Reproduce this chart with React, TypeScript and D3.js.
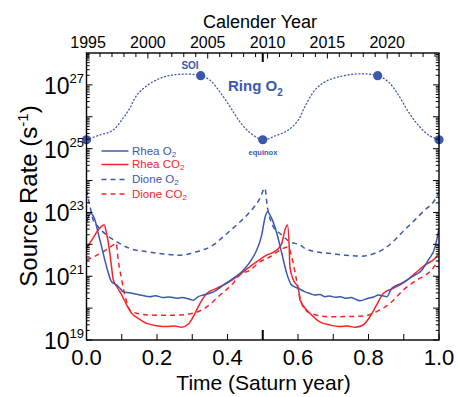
import React from 'react';
import * as d3 from 'd3';

const W = 458;
const H = 397;
const PLOT = { left: 86.5, right: 439, top: 53, bottom: 340 };

const BLUE = '#3b58ae';
const RED = '#f2252b';
const FONT = '"Liberation Sans", Arial, Helvetica, sans-serif';

// Time axis: fraction of one Saturn year; equinox sits at the middle.
const EQUINOX_YEAR = 2009.6;
const SATURN_YEAR = 29.46;
const YEAR_LABELS = [1995, 2000, 2005, 2010, 2015, 2020];
const TIME_LABELS = [0, 0.2, 0.4, 0.6, 0.8, 1.0];
const LOG_LABELS = [19, 21, 23, 25, 27];

// Ring O2 source (log10 of rate, s^-1)
const ringT = [0, 0.038, 0.075, 0.104, 0.123, 0.143, 0.172, 0.209, 0.245, 0.285, 0.324, 0.35, 0.379, 0.408, 0.436, 0.465, 0.5,
  0.535, 0.572, 0.601, 0.619, 0.648, 0.677, 0.714, 0.762, 0.8, 0.826, 0.856, 0.885, 0.913, 0.941, 0.97, 1.0];
const ringLog = [25.28, 25.43, 25.58, 25.96, 26.27, 26.68, 26.98, 27.21, 27.31, 27.34, 27.29, 27.15, 26.77, 26.3, 25.83, 25.49, 25.28,
  25.4, 25.58, 25.9, 26.31, 26.84, 27.1, 27.25, 27.34, 27.34, 27.29, 27.1, 26.68, 26.16, 25.74, 25.43, 25.28];
const ringEventT = [0, 0.324, 0.5, 0.826, 1.0];
const ringEventLog = [25.28, 27.29, 25.28, 27.29, 25.28];

// Rhea O2
const rheaO2T = [0, 0.012, 0.024, 0.033, 0.043, 0.052, 0.062, 0.071, 0.086, 0.095, 0.104, 0.123, 0.14, 0.152, 0.166, 0.18, 0.195,
  0.218, 0.235, 0.256, 0.27, 0.293, 0.303, 0.317, 0.331, 0.345, 0.36, 0.388, 0.416, 0.445, 0.464, 0.483, 0.497, 0.506, 0.513,
  0.525, 0.54, 0.554, 0.568, 0.582, 0.601, 0.62, 0.634, 0.648, 0.662, 0.677, 0.69, 0.705, 0.72, 0.734, 0.75, 0.765, 0.776, 0.799,
  0.815, 0.828, 0.84, 0.852, 0.866, 0.894, 0.923, 0.951, 0.97, 0.989, 1.0];
const rheaO2Log = [22.7, 22.97, 22.76, 22.35, 21.92, 21.51, 21.1, 20.83, 20.72, 20.62, 20.51, 20.48, 20.44, 20.41, 20.38, 20.36, 20.39,
  20.33, 20.35, 20.31, 20.33, 20.28, 20.25, 20.36, 20.41, 20.45, 20.51, 20.72, 20.93, 21.19, 21.45, 21.82, 22.29, 22.82, 23.02,
  22.82, 22.34, 21.72, 21.09, 20.72, 20.62, 20.51, 20.46, 20.41, 20.43, 20.36, 20.38, 20.34, 20.36, 20.31, 20.33, 20.27, 20.23, 20.31,
  20.35, 20.41, 20.39, 20.36, 20.62, 20.78, 20.98, 21.19, 21.51, 21.92, 22.5];

// Rhea CO2
const rheaCO2T = [0, 0.019, 0.033, 0.05, 0.057, 0.065, 0.071, 0.076, 0.086, 0.1, 0.114, 0.128, 0.147, 0.171, 0.199, 0.228, 0.25,
  0.27, 0.289, 0.303, 0.322, 0.341, 0.369, 0.398, 0.426, 0.464, 0.511, 0.54, 0.554, 0.563, 0.57, 0.575, 0.577, 0.587, 0.601,
  0.606, 0.634, 0.662, 0.691, 0.719, 0.74, 0.762, 0.785, 0.804, 0.823, 0.842, 0.87, 0.904, 0.932, 0.96, 0.989, 1.0];
const rheaCO2Log = [21.88, 22.2, 22.45, 22.61, 22.34, 21.82, 21.3, 20.88, 20.67, 20.41, 20.1, 19.84, 19.68, 19.52, 19.45, 19.42, 19.44,
  19.4, 19.5, 19.73, 20.15, 20.46, 20.62, 20.78, 20.98, 21.3, 21.66, 21.82, 22.03, 22.45, 22.61, 21.92, 21.3, 20.88, 20.62,
  20.25, 19.84, 19.57, 19.47, 19.42, 19.44, 19.4, 19.47, 19.73, 20.1, 20.46, 20.62, 20.83, 21.09, 21.35, 21.56, 21.72];

// Dione O2
const dioneO2T = [0, 0.01, 0.019, 0.033, 0.057, 0.086, 0.123, 0.171, 0.218, 0.265, 0.313, 0.36, 0.388, 0.426, 0.464, 0.492, 0.506,
  0.513, 0.53, 0.549, 0.577, 0.606, 0.62, 0.648, 0.686, 0.733, 0.781, 0.818, 0.846, 0.874, 0.902, 0.931, 0.959, 0.988, 1.0];
const dioneO2Log = [23.7, 23.18, 22.76, 22.55, 22.29, 22.08, 21.87, 21.77, 21.7, 21.66, 21.77, 21.98, 22.24, 22.61, 23.02, 23.44, 23.76,
  23.18, 22.55, 22.34, 22.08, 21.98, 21.87, 21.77, 21.72, 21.66, 21.63, 21.72, 21.87, 22.13, 22.45, 22.76, 23.07, 23.39, 23.65];

// Dione CO2
const dioneCO2T = [0, 0.048, 0.076, 0.084, 0.09, 0.1, 0.109, 0.123, 0.142, 0.19, 0.256, 0.303, 0.341, 0.379, 0.416, 0.435, 0.464,
  0.492, 0.521, 0.549, 0.572, 0.582, 0.596, 0.61, 0.634, 0.691, 0.785, 0.823, 0.861, 0.899, 0.937, 0.974, 1.0];
const dioneCO2Log = [21.51, 21.77, 21.98, 22.04, 21.51, 20.88, 20.41, 19.94, 19.84, 19.78, 19.78, 19.84, 20.04, 20.41, 20.78, 21.04, 21.19,
  21.45, 21.61, 21.82, 21.92, 21.61, 20.88, 20.15, 19.84, 19.73, 19.75, 19.89, 20.15, 20.57, 20.88, 21.14, 21.51];

const LEGEND = [
  { name: 'Rhea O', sub: '2', color: BLUE, dash: null },
  { name: 'Rhea CO', sub: '2', color: RED, dash: null },
  { name: 'Dione O', sub: '2', color: BLUE, dash: '5 4' },
  { name: 'Dione CO', sub: '2', color: RED, dash: '5 4' },
];

type Pt = [number, number];
const zip = (a: number[], b: number[]): Pt[] => a.map((v, i) => [v, b[i]]);

export default function App() {
  const x = d3.scaleLinear().domain([0, 1]).range([PLOT.left, PLOT.right]);
  const y = d3.scaleLog().domain([1e19, 1e28]).range([PLOT.bottom, PLOT.top]);
  const yearX = (yr: number) => x(0.5 + (yr - EQUINOX_YEAR) / SATURN_YEAR);

  const line = d3
    .line<Pt>()
    .x((d) => x(d[0]))
    .y((d) => y(Math.pow(10, d[1])))
    .curve(d3.curveMonotoneX);

  const series = [
    { d: zip(dioneO2T, dioneO2Log), color: BLUE, dash: '5 4' },
    { d: zip(dioneCO2T, dioneCO2Log), color: RED, dash: '5 4' },
    { d: zip(rheaCO2T, rheaCO2Log), color: RED, dash: null },
    { d: zip(rheaO2T, rheaO2Log), color: BLUE, dash: null },
  ];

  // log ticks on the vertical axes
  const yTicks: { v: number; major: boolean }[] = [];
  for (let k = 19; k < 28; k++) {
    for (let m = 1; m <= 9; m++) yTicks.push({ v: m * Math.pow(10, k), major: m === 1 });
  }
  const years = d3.range(1995, 2025);
  const tTicks = d3.range(0, 11).map((i) => i / 10);

  const ringLine = d3
    .line<Pt>()
    .x((d) => x(d[0]))
    .y((d) => y(Math.pow(10, d[1])))
    .curve(d3.curveCatmullRom);

  return (
    <svg width={W} height={H} style={{ position: 'absolute', left: 0, top: 0, background: '#fff' }} fontFamily={FONT}>
      <defs>
        <clipPath id="plotClip">
          <rect x={PLOT.left} y={PLOT.top} width={PLOT.right - PLOT.left} height={PLOT.bottom - PLOT.top} />
        </clipPath>
      </defs>

      <g clipPath="url(#plotClip)">
        <path d={ringLine(zip(ringT, ringLog)) || ''} fill="none" stroke={BLUE} strokeWidth={1.3} strokeDasharray="1 2.6" strokeLinecap="round" />
        {series.map((s, i) => (
          <path key={i} d={line(s.d) || ''} fill="none" stroke={s.color} strokeWidth={1.5} strokeDasharray={s.dash || undefined} />
        ))}
      </g>

      {ringEventT.map((t, i) => (
        <circle key={i} cx={x(t)} cy={y(Math.pow(10, ringEventLog[i]))} r={4.6} fill={BLUE} />
      ))}
      <text x={190} y={69} fontSize={10} fontWeight="bold" fill={BLUE} textAnchor="middle">SOI</text>
      <text x={263} y={155} fontSize={7.5} fontWeight="bold" fill={BLUE} textAnchor="middle">equinox</text>
      <text x={228} y={91} fontSize={15} fontWeight="bold" fill={BLUE}>
        Ring O<tspan fontSize={10} dy={5}>2</tspan>
      </text>

      {/* legend */}
      {LEGEND.map((l, i) => {
        const ly = [151, 164.5, 179.5, 194][i];
        return (
          <g key={l.name}>
            <line x1={101.5} x2={128.5} y1={ly} y2={ly} stroke={l.color} strokeWidth={1.5} strokeDasharray={l.dash || undefined} />
            <text x={132} y={ly + 3.5} fontSize={11.5} fill={l.color}>
              {l.name}
              <tspan fontSize={8} dy={2}>{l.sub}</tspan>
            </text>
          </g>
        );
      })}

      {/* frame */}
      <rect x={PLOT.left} y={PLOT.top} width={PLOT.right - PLOT.left} height={PLOT.bottom - PLOT.top} fill="none" stroke="#000" strokeWidth={1.4} />

      {/* vertical axis ticks, left and right */}
      {yTicks.map((t, i) => {
        const yy = y(t.v);
        const len = t.major ? 6 : 3.2;
        return (
          <g key={i} stroke="#000" strokeWidth={1}>
            <line x1={PLOT.left} x2={PLOT.left + len} y1={yy} y2={yy} />
            <line x1={PLOT.right} x2={PLOT.right - len} y1={yy} y2={yy} />
          </g>
        );
      })}
      {LOG_LABELS.map((k) => (
        <text key={k} x={84} y={y(Math.pow(10, k)) + 9} fontSize={23} textAnchor="end" fill="#000">
          10<tspan fontSize={13} dy={-11}>{k}</tspan>
        </text>
      ))}

      {/* bottom ticks */}
      {tTicks.map((t, i) => (
        <line key={i} x1={x(t)} x2={x(t)} y1={PLOT.bottom} y2={PLOT.bottom - (i === 5 ? 10 : 6)} stroke="#000" strokeWidth={i === 5 ? 2 : 1} />
      ))}
      {TIME_LABELS.map((t) => (
        <text key={t} x={x(t)} y={365} fontSize={22} textAnchor="middle" fill="#000">{t.toFixed(1)}</text>
      ))}
      <text x={263.5} y={390} fontSize={21} textAnchor="middle" fill="#000">Time (Saturn year)</text>

      {/* top (calendar) ticks */}
      {years.map((yr) => (
        <line key={yr} x1={yearX(yr)} x2={yearX(yr)} y1={PLOT.top} y2={PLOT.top + (yr % 5 === 0 ? 5.5 : 4)} stroke="#000" strokeWidth={1} />
      ))}
      <line x1={x(0.5)} x2={x(0.5)} y1={PLOT.top} y2={PLOT.top + 9} stroke="#000" strokeWidth={2} />
      {YEAR_LABELS.map((yr) => (
        <text key={yr} x={yearX(yr)} y={48} fontSize={16} textAnchor="middle" fill="#000">{yr}</text>
      ))}
      <text x={260} y={28} fontSize={18} textAnchor="middle" fill="#000">Calender Year</text>

      <text transform="translate(37,196) rotate(-90)" fontSize={24} textAnchor="middle" fill="#000">
        Source Rate (s<tspan fontSize={15} dy={-9}>-1</tspan><tspan dy={9}>)</tspan>
      </text>
    </svg>
  );
}
